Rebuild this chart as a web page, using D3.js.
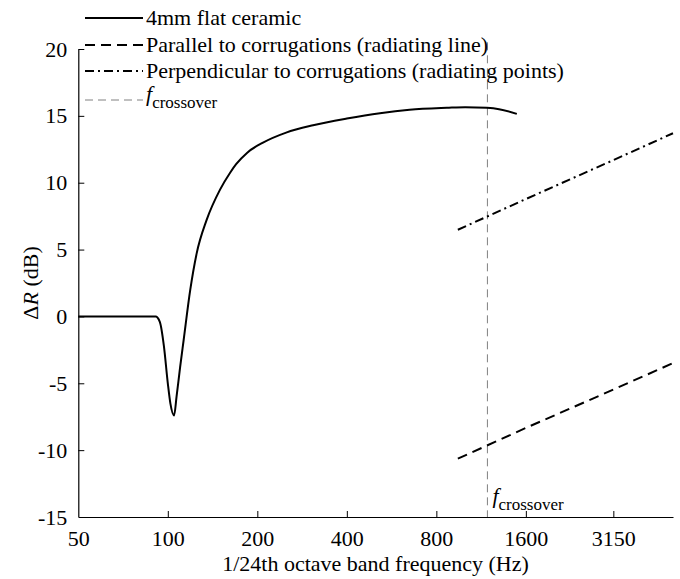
<!DOCTYPE html>
<html><head><meta charset="utf-8">
<script src="https://cdn.jsdelivr.net/npm/d3@7"></script>
<style>
body{margin:0;background:#fff;}
svg text{font-family:"Liberation Serif","Tinos","Times New Roman","DejaVu Serif",serif !important;fill:#000;}
</style></head>
<body><svg id="c" width="680" height="579"></svg>
<script>
// ---- data ----
const flatFreq = [50,60,70,80,91,94,97,100,102,105,107,110,113,119,125,135,150,162,170,185,209,250,308,400,517,650,868,1000,1183,1300,1492];
const flatDR   = [0,0,0,0,0,-0.4,-2.2,-5.0,-6.5,-7.4,-6.0,-3.8,-1.8,2.0,4.7,7.2,9.5,10.75,11.4,12.25,13.0,13.75,14.3,14.8,15.2,15.45,15.6,15.65,15.6,15.5,15.15];
const parFreq = [945,1600,3150,5000];
const parDR   = [-10.64,-8.34,-5.47,-3.49];
const perpFreq = [945,1600,3150,5000];
const perpDR   = [6.48,8.78,11.69,13.7];
const fCrossover = 1188;
const xTicks = [50,100,200,400,800,1600,3150];
const yTicks = [-15,-10,-5,0,5,10,15,20];
const legendLabels = ["4mm flat ceramic","Parallel to corrugations (radiating line)","Perpendicular to corrugations (radiating points)"];

// ---- scales ----
const svg = d3.select("#c");
const x = d3.scaleLog().domain([50,5000]).range([78.3,673]);
const y = d3.scaleLinear().domain([-15,20]).range([517,49]);
const FS = 22, SUB = 17;
const FF = "Liberation Serif, Tinos, Times New Roman, serif";

// axes
const xa = svg.append("g").attr("transform","translate(0,517)")
  .call(d3.axisBottom(x).tickValues(xTicks).tickFormat(d=>d).tickSizeInner(-6).tickSizeOuter(0).tickPadding(13));
const ya = svg.append("g").attr("transform","translate(78.3,0)")
  .call(d3.axisLeft(y).tickValues(yTicks).tickFormat(d=>d).tickSizeInner(-6).tickSizeOuter(0).tickPadding(11));
[xa,ya].forEach(a=>{
  a.attr("font-family",FF).attr("font-size",FS);
  a.select(".domain").attr("stroke","#000").attr("stroke-width",1.2);
  a.selectAll(".tick line").attr("stroke","#000").attr("stroke-width",1);
  a.selectAll(".tick text").attr("font-size",FS);
});
xa.selectAll(".tick").filter(d=>d===50).select("line").remove();
ya.selectAll(".tick").filter(d=>d===-15).select("line").remove();

// axis titles
svg.append("text").attr("x",375.5).attr("y",571).attr("text-anchor","middle").attr("font-size",FS)
  .text("1/24th octave band frequency (Hz)");
const yt = svg.append("text").attr("transform","translate(38,283) rotate(-90)").attr("text-anchor","middle").attr("font-size",FS);
yt.append("tspan").text("\u0394");
yt.append("tspan").attr("font-style","italic").text("R");
yt.append("tspan").text(" (dB)");

// crossover line
svg.append("line").attr("x1",x(fCrossover)).attr("x2",x(fCrossover)).attr("y1",y(20.5)).attr("y2",y(-15))
  .attr("stroke","#808080").attr("stroke-width",1).attr("stroke-dasharray","8,5");

// series
const line = d3.line().x(d=>x(d[0])).y(d=>y(d[1])).curve(d3.curveMonotoneX);
svg.append("path").datum(d3.zip(flatFreq,flatDR)).attr("d",line)
  .attr("fill","none").attr("stroke","#000").attr("stroke-width",2);
const lineS = d3.line().x(d=>x(d[0])).y(d=>y(d[1]));
svg.append("path").datum(d3.zip(parFreq,parDR)).attr("d",lineS)
  .attr("fill","none").attr("stroke","#000").attr("stroke-width",2).attr("stroke-dasharray","10,6");
svg.append("path").datum(d3.zip(perpFreq,perpDR)).attr("d",lineS)
  .attr("fill","none").attr("stroke","#000").attr("stroke-width",2).attr("stroke-dasharray","9,4,2,4");

// crossover label near bottom
const cl = svg.append("text").attr("x",x(fCrossover)+5).attr("y",503).attr("font-size",FS);
cl.append("tspan").attr("font-style","italic").text("f");
cl.append("tspan").attr("dy",7).attr("font-size",SUB).text("crossover");

// legend
const leg = svg.append("g");
const rowsY = [18,45,71];
const dashes = [null,"10,6","9,4,2,4"];
legendLabels.forEach((t,i)=>{
  const l = leg.append("line").attr("x1",85).attr("x2",143).attr("y1",rowsY[i]).attr("y2",rowsY[i])
    .attr("stroke","#000").attr("stroke-width",2);
  if(dashes[i]) l.attr("stroke-dasharray",dashes[i]);
  leg.append("text").attr("x",146).attr("y",rowsY[i]+7).attr("font-size",FS).text(t);
});
leg.append("line").attr("x1",85).attr("x2",143).attr("y1",100).attr("y2",100)
  .attr("stroke","#808080").attr("stroke-width",1).attr("stroke-dasharray","8,5");
const lt = leg.append("text").attr("x",146).attr("y",101).attr("font-size",FS);
lt.append("tspan").attr("font-style","italic").text("f");
lt.append("tspan").attr("dy",7).attr("font-size",SUB).text("crossover");
</script></body></html>
